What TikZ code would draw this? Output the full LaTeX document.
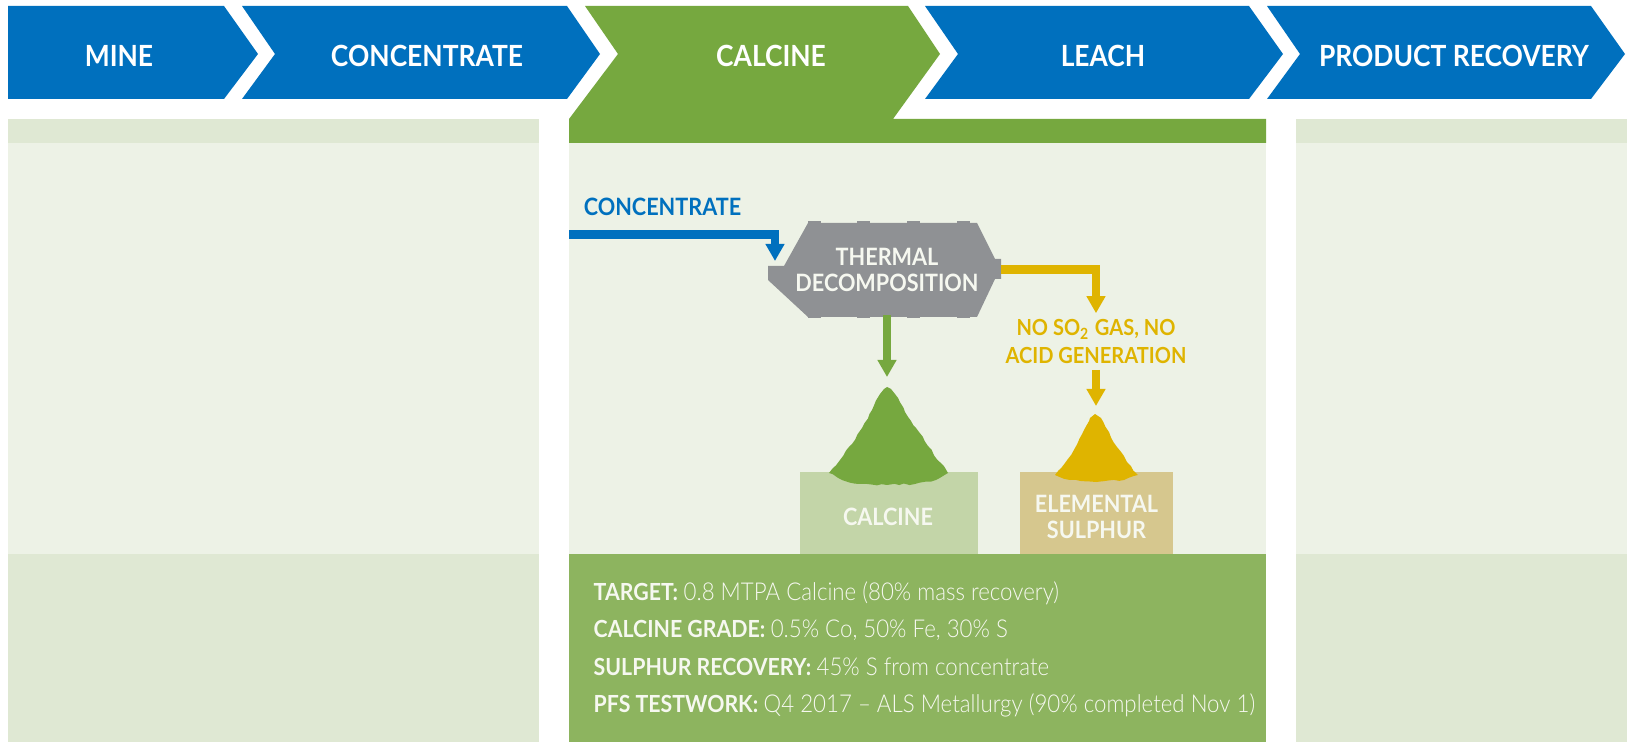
\documentclass[tikz,border=0pt]{standalone}
\usepackage{fontspec}
\setmainfont{Lato}[FakeStretch=0.905]
\newfontfamily\lightfont{Lato Light}[FakeStretch=0.905]
\usetikzlibrary{arrows.meta,decorations.pathmorphing}
\definecolor{stepblue}{HTML}{0070BE}
\definecolor{stepgreen}{HTML}{76A83F}
\definecolor{panellight}{HTML}{EDF2E6}
\definecolor{panelband}{HTML}{DFE8D3}
\definecolor{statgreen}{HTML}{8DB45F}
\definecolor{vesselgrey}{HTML}{8F9194}
\definecolor{sulphuryellow}{HTML}{DFB400}
\definecolor{calcinebox}{HTML}{C3D5A8}
\definecolor{sulphurbox}{HTML}{D6C78E}
\definecolor{softwhite}{HTML}{F6F8F0}
\tikzset{
  steplabel/.style={text=white,font=\fontsize{8.3}{10}\selectfont\bfseries,inner sep=0pt},
  flowlabel/.style={font=\fontsize{6.8}{7.4}\selectfont\bfseries,align=center,inner sep=0pt},
  flow/.style={line width=0.085cm,-{Triangle[length=0.17cm,width=0.18cm]}},
  statline/.style={text=softwhite,font=\fontsize{6.7}{8}\selectfont,anchor=west,inner sep=0pt},
  basebox/.style={minimum height=0.82cm,inner sep=0pt},
  rough/.style={decorate,decoration={random steps,segment length=1.5pt,amplitude=0.25pt}}
}
\newcommand{\statname}[1]{{\bfseries #1}}
\newcommand{\statvalue}[1]{{\lightfont\fontsize{7}{8}\selectfont #1}}
\begin{document}
\begin{tikzpicture}[y=-1cm]
\useasboundingbox (0,0) rectangle (16.27,7.42);
\fill[white] (0,0) rectangle (16.27,7.42);

% panels
\fill[panellight] (0.08,1.19) rectangle (5.39,5.54);
\fill[panelband] (0.08,1.19) rectangle (5.39,1.43);
\fill[panelband] (0.08,5.54) rectangle (5.39,7.42);
\fill[panellight] (5.69,1.43) rectangle (12.66,5.54);
\fill[panellight] (12.96,1.19) rectangle (16.27,5.54);
\fill[panelband] (12.96,1.19) rectangle (16.27,1.43);
\fill[panelband] (12.96,5.54) rectangle (16.27,7.42);
\fill[statgreen] (5.69,5.54) rectangle (12.66,7.42);

% steps
\fill[stepblue]
(0.08,0.06) --
(2.24,0.06) --
(2.58,0.54) --
(2.24,0.99) --
(0.08,0.99) -- cycle;
\fill[stepblue]
(2.42,0.06) --
(5.67,0.06) --
(6.00,0.54) --
(5.67,0.99) --
(2.42,0.99) --
(2.75,0.54) -- cycle;
\fill[stepgreen]
(5.85,0.06) --
(9.08,0.06) --
(9.40,0.54) --
(8.93,1.19) --
(12.66,1.19) --
(12.66,1.43) --
(5.69,1.43) --
(5.69,1.19) --
(6.18,0.54) -- cycle;
\fill[stepblue]
(9.25,0.06) --
(12.49,0.06) --
(12.83,0.54) --
(12.49,0.99) --
(9.25,0.99) --
(9.58,0.54) -- cycle;
\fill[stepblue]
(12.67,0.06) --
(15.91,0.06) --
(16.25,0.54) --
(15.91,0.99) --
(12.67,0.99) --
(13.00,0.54) -- cycle;

\node[steplabel] (mine) at (1.19,0.56) {MINE};
\node[steplabel] (concentrate) at (4.27,0.56) {CONCENTRATE};
\node[steplabel] (calcine) at (7.71,0.56) {CALCINE};
\node[steplabel] (leach) at (11.03,0.56) {LEACH};
\node[steplabel] (recovery) at (14.54,0.56) {PRODUCT RECOVERY};

% boxes under the piles
\node[basebox,fill=calcinebox,minimum width=1.78cm] (calcinebase) at (8.89,5.13) {};
\node[basebox,fill=sulphurbox,minimum width=1.53cm] (sulphurbase) at (10.965,5.13) {};
\node[flowlabel,text=softwhite] (calcinetext) at (8.88,5.17) {CALCINE};
\node[flowlabel,text=softwhite] (sulphurtext) at (10.965,5.17) {ELEMENTAL\\SULPHUR};

% piles
\pgfmathsetseed{7}
\fill[stepgreen,rough]
(8.29,4.73) -- (8.40,4.60) -- (8.52,4.44) -- (8.62,4.28) -- (8.72,4.10) -- (8.80,3.94) --
(8.84,3.89) -- (8.87,3.87) -- (8.91,3.89) -- (8.95,3.94) -- (9.05,4.12) -- (9.16,4.28) --
(9.28,4.46) -- (9.48,4.73) -- (9.36,4.80) -- (9.15,4.84) -- (8.87,4.85) -- (8.60,4.84) --
(8.42,4.80) -- cycle;
\fill[sulphuryellow,rough]
(10.55,4.75) -- (10.65,4.63) -- (10.75,4.48) -- (10.84,4.30) -- (10.90,4.18) --
(10.95,4.14) -- (11.01,4.18) -- (11.09,4.32) -- (11.17,4.47) -- (11.27,4.62) --
(11.38,4.75) -- (11.24,4.80) -- (10.96,4.82) -- (10.70,4.80) -- cycle;

% vessel
\fill[vesselgrey]
(8.08,2.23) coordinate (vtopleft) --
(9.77,2.23) coordinate (vtopright) --
(9.95,2.59) --
(10.01,2.59) --
(10.01,2.79) --
(9.95,2.79) --
(9.77,3.17) --
(8.08,3.17) --
(7.68,2.80) --
(7.68,2.66) --
(7.84,2.66) -- cycle;
\foreach \bx in {8.08,8.57,9.07,9.57} {
  \fill[vesselgrey] (\bx,2.21) rectangle ++(0.13,0.03);
  \fill[vesselgrey] (\bx,3.16) rectangle ++(0.13,0.02);
}
\node[flowlabel,text=softwhite] (decomp) at (8.87,2.70) {THERMAL\\DECOMPOSITION};

% flows
\node[flowlabel,text=stepblue] (feedlabel) at (6.625,2.07) {CONCENTRATE};
\node[flowlabel,text=sulphuryellow,inner sep=0.05cm,font=\fontsize{6.3}{8.2}\selectfont\bfseries] (nogas) at (10.96,3.415) {NO SO\textsubscript{2} GAS, NO\\ACID GENERATION};
\coordinate (feedin) at (5.69,2.345);
\coordinate (feedend) at (7.75,2.61);
\coordinate (greenout) at (8.87,3.15);
\coordinate (greenend) at (8.87,3.77);
\coordinate (yellowout) at (10.01,2.695);
\coordinate (yellowend) at (10.96,4.06);

\draw[flow,stepblue] (feedin) -| (feedend);
\draw[flow,stepgreen] (greenout) -- (greenend);
\draw[flow,sulphuryellow] (yellowout) -| (nogas.north);
\draw[flow,sulphuryellow] (nogas.south) -- (yellowend);

% figures
\node[statline] (target) at (5.93,5.93) {\statname{TARGET:} \statvalue{0.8 MTPA Calcine (80\% mass recovery)}};
\node[statline] (grade) at (5.93,6.30) {\statname{CALCINE GRADE:} \statvalue{0.5\% Co, 50\% Fe, 30\% S}};
\node[statline] (sulphur) at (5.93,6.67) {\statname{SULPHUR RECOVERY:} \statvalue{45\% S from concentrate}};
\node[statline] (testwork) at (5.93,7.05) {\statname{PFS TESTWORK:} \statvalue{Q4 2017 – ALS Metallurgy (90\% completed Nov 1)}};
\end{tikzpicture}
\end{document}
